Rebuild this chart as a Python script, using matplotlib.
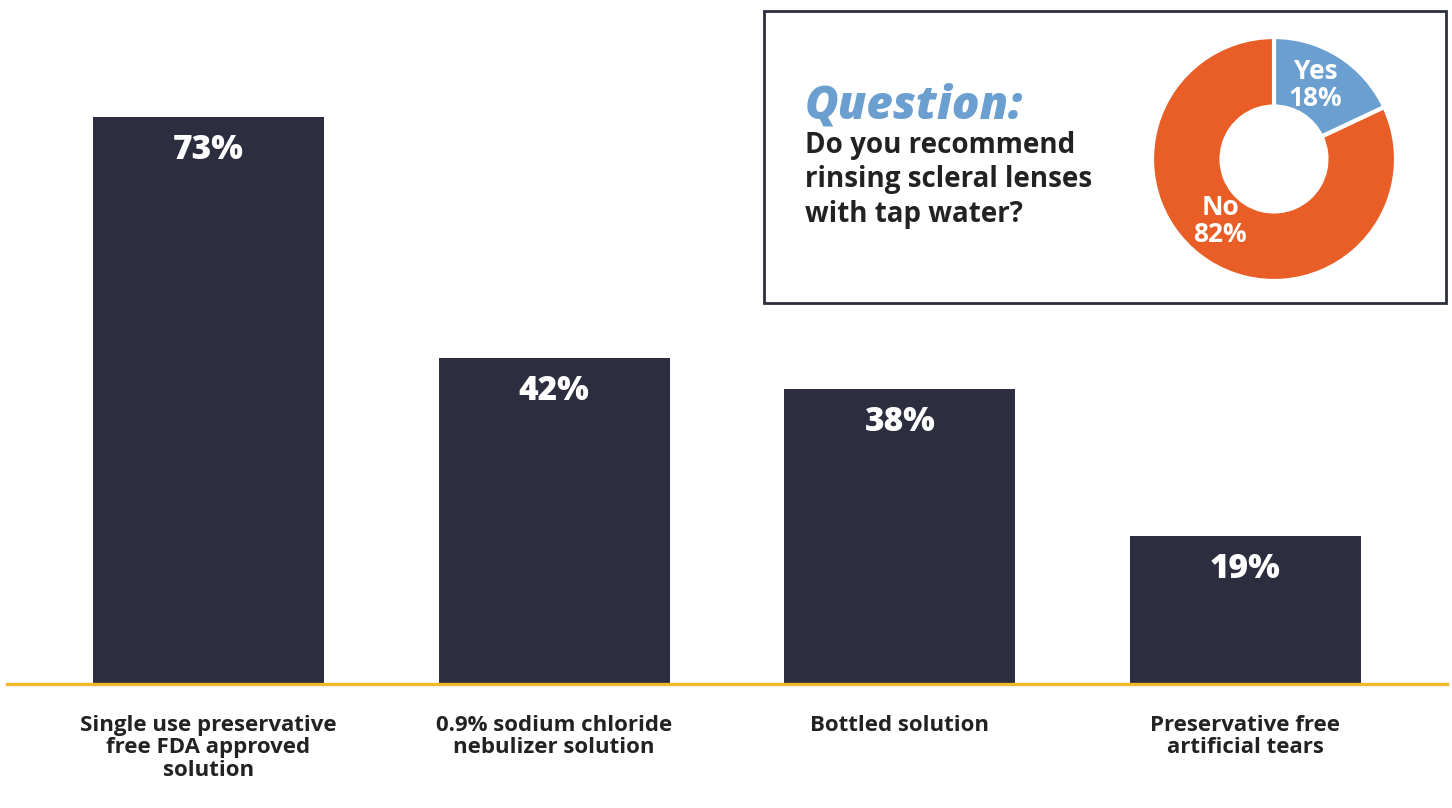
import matplotlib.pyplot as plt
from matplotlib.patches import Rectangle

categories = ['Single use preservative\nfree FDA approved\nsolution',
              '0.9% sodium chloride\nnebulizer solution',
              'Bottled solution',
              'Preservative free\nartificial tears']
values = [73, 42, 38, 19]

donut_labels = ['Yes', 'No']
donut_values = [18, 82]

BAR = '#2c2d3f'
GOLD = '#f0b92a'
BLUE = '#6a9fd0'
ORANGE = '#e85e26'
TEXT = '#222222'

W, H = 1452, 808
fig = plt.figure(figsize=(W / 100, H / 100), dpi=100)

def px(x0, y0, x1, y1):
    # pixel box (top-left origin) -> figure fraction rect
    return [x0 / W, 1 - y1 / H, (x1 - x0) / W, (y1 - y0) / H]

# main bar chart
ax = fig.add_axes(px(7, 117, 1447, 684))
xs = list(range(len(values)))
bars = ax.bar(xs, values, width=0.668, color=BAR, zorder=2)
ax.set_xlim(-0.583, 3.583)
ax.set_ylim(0, 73)
for s in ['top', 'right', 'left']:
    ax.spines[s].set_visible(False)
ax.spines['bottom'].set_color(GOLD)
ax.spines['bottom'].set_linewidth(2.4)
ax.spines['bottom'].set_zorder(3)
ax.set_yticks([])
ax.set_xticks(xs)
ax.set_xticklabels(categories, fontsize=16, fontweight='bold', color=TEXT,
                   family='Open Sans', linespacing=1.12)
ax.tick_params(axis='x', length=0, pad=22)

for x, v in zip(xs, values):
    ax.annotate(f'{v}%', (x, v), xytext=(0, -33), textcoords='offset pixels',
                ha='center', va='center', color='white', fontsize=24,
                fontweight='heavy', family='Open Sans')

# inset box
fig.patches.append(Rectangle((764 / W, 1 - 303 / H), 682 / W, 292 / H,
                             transform=fig.transFigure, fill=False,
                             edgecolor=BAR, linewidth=2))

fig.text(805 / W, 1 - 106 / H, 'Question:', color=BLUE, fontsize=33,
         fontweight='heavy', fontstyle='italic', family='Open Sans',
         ha='left', va='center')
fig.text(805 / W, 1 - 180 / H, 'Do you recommend\nrinsing scleral lenses\nwith tap water?',
         color=TEXT, fontsize=20, fontweight='bold', family='Open Sans',
         ha='left', va='center', linespacing=1.25)

# donut
dax = fig.add_axes(px(1144, 29, 1404, 289))
dax.pie(donut_values, colors=[BLUE, ORANGE], startangle=90, counterclock=False,
        radius=1, wedgeprops=dict(width=0.57, edgecolor='white', linewidth=3))
lim = 130 / 122
dax.set_xlim(-lim, lim)
dax.set_ylim(-lim, lim)
dax.set_aspect('equal')
dax.axis('off')
dax.text(0.34, 0.61, f'{donut_labels[0]}\n{donut_values[0]}%', ha='center', va='center',
         color='white', fontsize=19, fontweight='bold', family='Open Sans',
         linespacing=1.0)
dax.text(-0.44, -0.51, f'{donut_labels[1]}\n{donut_values[1]}%', ha='center', va='center',
         color='white', fontsize=19, fontweight='bold', family='Open Sans',
         linespacing=1.0)

fig.savefig('out.png', dpi=100)
